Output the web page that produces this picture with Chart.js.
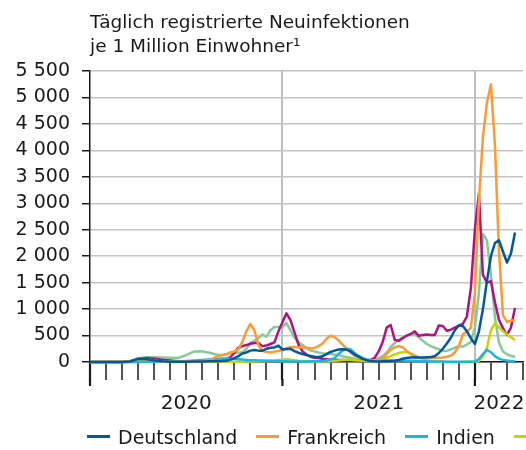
<!DOCTYPE html>
<html lang="de">
<head>
<meta charset="utf-8">
<script src="https://cdn.jsdelivr.net/npm/chart.js@4.4.1/dist/chart.umd.min.js"></script>
<style>
  html, body { margin: 0; padding: 0; background: #fff; }
  body { width: 526px; height: 450px; overflow: hidden; position: relative; font-family: "DejaVu Sans", sans-serif; }
  #chart { position: absolute; left: 0; top: 0; }
  #legende { position: absolute; left: 87px; top: 420px; width: 439px; overflow: hidden; white-space: nowrap; font-size: 19px; color: #1a1a1a; }
  .eintrag { display: inline-flex; align-items: center; margin-right: 19px; }
  .strich { display: inline-block; width: 23px; height: 3px; margin-right: 8px; }
</style>
</head>
<body>
<canvas id="chart" width="526" height="450"></canvas>
<div id="legende"></div>
<script>
// Monate seit Januar 2020 (x-Werte der Messpunkte)
const monate = [0,0.5,1,1.5,2,2.5,3,3.5,4,4.5,5,5.5,6,6.5,7,7.5,8,
  8.25,8.5,8.75,9,9.25,9.5,9.75,10,
  10.25,10.5,10.75,11,11.25,11.5,11.75,12,
  12.25,12.5,12.75,13,13.25,13.5,13.75,14,
  14.25,14.5,14.75,15,15.25,15.5,15.75,16,
  16.25,16.5,16.75,17,17.25,17.5,17.75,18,
  18.25,18.5,18.75,19,19.25,19.5,19.75,20,
  20.25,20.5,20.75,21,21.25,21.5,21.75,22,
  22.25,22.5,22.75,23,23.25,23.5,23.75,24,
  24.25,24.5,24.75,25,25.25,25.5,25.75,26,
  26.25,26.5];

const deutschland = [0,0,0,0,0,10,60,55,30,15,6,5,6,8,10,12,15,
  18,25,45,70,110,160,180,215,
  225,215,215,250,270,275,310,235,
  245,250,205,175,150,130,115,100,
  95,110,150,190,215,235,240,235,
  200,140,100,60,35,20,12,10,
  12,15,20,25,40,60,75,85,
  90,85,85,90,95,110,170,250,
  350,460,600,690,680,580,450,340,
  580,1000,1530,2000,2250,2300,2090,1880,
  2050,2450];

const frankreich = [0,0,0,0,0,15,55,55,30,10,5,5,8,10,20,40,115,
  130,150,180,200,240,380,580,720,
  600,320,210,190,180,200,210,220,
  260,280,285,280,275,270,262,265,
  300,350,440,500,470,410,330,250,
  180,120,80,60,40,30,35,45,
  65,150,230,280,300,280,210,150,
  110,90,75,70,70,75,80,85,
  100,120,180,300,520,575,650,1300,
  3050,4250,4900,5250,4100,2100,880,760,
  780,790];

const indien = [0,0,0,0,0,0,2,3,4,5,8,12,20,30,40,50,60,
  65,65,62,55,50,45,40,35,
  33,30,28,25,22,20,17,15,
  13,11,10,9,9,10,12,13,
  15,20,30,45,75,150,215,255,
  240,170,115,75,50,35,30,28,
  28,28,28,28,27,26,25,25,
  22,18,15,13,11,10,9,8,
  7,7,6,6,6,6,7,10,
  55,150,230,185,110,65,40,28,
  20,16];

const japan = [0,0,0,0,0,0,10,15,5,3,3,3,5,8,8,7,6,
  5,5,5,5,5,6,8,10,
  12,15,18,20,25,30,38,45,
  50,45,35,25,20,15,12,10,
  10,12,15,20,25,30,38,45,
  42,35,28,22,18,15,14,15,
  40,80,110,140,170,185,190,165,
  125,85,55,30,15,8,5,3,
  2,2,2,2,2,3,4,10,
  20,100,270,600,730,660,580,525,
  470,415];

const vereinigtesKoenigreich = [0,0,0,0,0,10,50,75,60,45,30,15,10,8,8,12,20,
  35,55,90,170,270,300,320,345,
  360,360,300,310,340,370,580,750,
  920,790,560,330,200,140,100,80,
  75,60,50,45,42,40,38,35,
  32,30,30,32,35,40,80,200,
  380,650,700,420,400,450,500,530,
  580,495,510,520,510,510,690,680,
  590,610,650,690,720,860,1400,2500,
  3180,1650,1500,1530,1130,800,640,510,
  650,1020];

const usa = [0,0,0,0,0,20,70,90,90,85,80,75,130,200,205,170,135,
  130,140,160,175,175,185,250,360,
  400,450,520,480,600,660,660,660,
  740,600,460,380,320,260,220,200,
  180,165,155,150,140,130,110,95,
  80,60,45,40,38,40,50,70,
  110,180,280,360,410,470,500,520,
  525,470,400,340,300,270,240,215,
  210,240,270,300,290,330,380,650,
  1300,2420,2300,1650,850,370,200,146,
  115,100];

const laender = ['Deutschland', 'Frankreich', 'Indien', 'Japan', 'Vereinigtes Königreich', 'USA'];
const reihen = [deutschland, frankreich, indien, japan, vereinigtesKoenigreich, usa];
const farben = ['#00599b', '#ff9933', '#1ab6ea', '#c4d600', '#b0127f', '#88c999'];

const jahre = ['2020', '2021', '2022'];
const jahrGrenzen = [0, 12, 24];
const jahrMitte = [6, 18, 25.5];
const xTicks = [];
for (let m = 0; m <= 27; m++) xTicks.push(m);
xTicks.push(25.5);
xTicks.sort((a, b) => a - b);

const TEXT = '#1a1a1a';
const SCHRIFT = '"DejaVu Sans", sans-serif';

function formatZahl(v) {
  return String(v).replace(/\B(?=(\d{3})+(?!\d))/g, ' ');
}

// Jahresgrenzen bekommen etwas laengere Striche unter der Achse
const jahrStriche = {
  id: 'jahrStriche',
  afterDraw(chart) {
    const x = chart.scales.x;
    const ctx = chart.ctx;
    ctx.save();
    ctx.strokeStyle = TEXT;
    ctx.lineWidth = 2.2;
    jahrGrenzen.forEach(g => {
      const px = x.getPixelForValue(g);
      ctx.beginPath();
      ctx.moveTo(px, x.top + 17);
      ctx.lineTo(px, x.top + 24);
      ctx.stroke();
    });
    ctx.restore();
  }
};

const datasets = reihen.map((werte, i) => ({
  label: laender[i],
  data: monate.map((m, j) => ({ x: m, y: werte[j] })),
  borderColor: farben[i],
  backgroundColor: farben[i],
  borderWidth: 2.5,
  pointRadius: 0,
  tension: 0,
  fill: false,
  clip: 4,
  borderJoinStyle: 'round'
}));

new Chart(document.getElementById('chart').getContext('2d'), {
  type: 'line',
  data: { datasets: datasets },
  plugins: [jahrStriche],
  options: {
    responsive: false,
    animation: false,
    layout: { padding: { left: 14, right: 3, top: 0, bottom: 22 } },
    font: { family: SCHRIFT },
    plugins: {
      legend: { display: false },
      tooltip: { enabled: false },
      title: {
        display: true,
        fullSize: false,
        align: 'start',
        text: ['Täglich registrierte Neuinfektionen', 'je 1 Million Einwohner¹'],
        color: TEXT,
        font: { family: SCHRIFT, size: 18.5, weight: 'normal', lineHeight: 1.3 },
        padding: { top: 11, bottom: 12 }
      }
    },
    scales: {
      x: {
        type: 'linear',
        min: 0,
        max: 27,
        afterBuildTicks: axis => { axis.ticks = xTicks.map(v => ({ value: v })); },
        afterFit: axis => { axis.paddingLeft = 0; axis.paddingRight = 0; },
        ticks: {
          autoSkip: false,
          maxRotation: 0,
          padding: 12,
          color: TEXT,
          font: { family: SCHRIFT, size: 20 },
          callback: v => { const i = jahrMitte.indexOf(v); return i >= 0 ? jahre[i] : ''; }
        },
        grid: {
          color: c => (c.tick && c.tick.value > 0 && jahrGrenzen.includes(c.tick.value)) ? '#bdbdbd' : 'rgba(0,0,0,0)',
          lineWidth: 2,
          tickLength: 18,
          tickColor: c => (c.tick && Number.isInteger(c.tick.value)) ? TEXT : 'rgba(0,0,0,0)',
          tickWidth: c => (c.tick && jahrGrenzen.includes(c.tick.value)) ? 2.2 : 1.5
        },
        border: { color: TEXT, width: 1.5 }
      },
      y: {
        min: 0,
        max: 5500,
        afterFit: axis => { axis.width = 76; },
        ticks: {
          stepSize: 500,
          autoSkip: false,
          padding: 12,
          color: TEXT,
          font: { family: SCHRIFT, size: 19 },
          callback: v => formatZahl(v)
        },
        grid: { color: '#c4c4c4', lineWidth: 1.5, tickLength: 8, tickColor: TEXT, tickWidth: 1.5 },
        border: { color: TEXT, width: 1.5 }
      }
    }
  }
});

// Legende als HTML, rechts abgeschnitten wie im Original
const legende = document.getElementById('legende');
laender.forEach((name, i) => {
  const e = document.createElement('span');
  e.className = 'eintrag';
  const s = document.createElement('span');
  s.className = 'strich';
  s.style.background = farben[i];
  e.appendChild(s);
  e.appendChild(document.createTextNode(name));
  legende.appendChild(e);
});
</script>
</body>
</html>
